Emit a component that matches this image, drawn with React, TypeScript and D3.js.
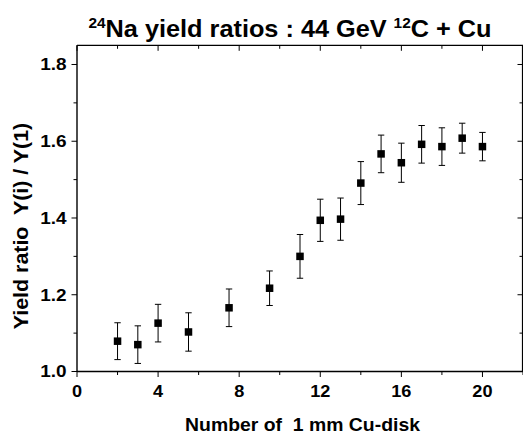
import React from "react";
import * as d3 from "d3";

const diskNumber = [2, 3, 4, 5.5, 7.5, 9.5, 11, 12, 13, 14, 15, 16, 17, 18, 19, 20];
const yieldRatio = [1.079, 1.07, 1.126, 1.103, 1.166, 1.217, 1.3, 1.394, 1.397, 1.491, 1.567, 1.544, 1.592, 1.586, 1.608, 1.586];
const ratioError = [0.048, 0.049, 0.049, 0.05, 0.049, 0.045, 0.057, 0.055, 0.055, 0.056, 0.049, 0.051, 0.049, 0.049, 0.039, 0.037];
const xTickLabels = [0, 4, 8, 12, 16, 20];
const yTickLabels = [1.0, 1.2, 1.4, 1.6, 1.8];

const W = 523;
const H = 434;
const L = 77;
const R = 523;
const T = 45.3;
const B = 371.5;
const FONT = "'Liberation Sans', Arial, sans-serif";

export default function App() {
  const x = d3.scaleLinear().domain([0, 22]).range([L, R]);
  const y = d3.scaleLinear().domain([1.0, 1.85]).range([B, T]);
  const xMinor = d3.range(0, 22.01, 2);
  const yMinor = d3.range(1.0, 1.851, 0.1);
  const isMajorX = (v: number) => Math.abs(v % 4) < 1e-6;
  const isMajorY = (v: number) => Math.abs(Math.round(v * 10) % 2) < 1e-6;
  const data = diskNumber.map((d, i) => ({ x: d, y: yieldRatio[i], e: ratioError[i] }));
  const ms = 7.5;
  const cap = 3.2;

  return (
    <svg width={W} height={H} style={{ position: "absolute", left: 0, top: 0, background: "#fff" }} fontFamily={FONT}>
      <rect x={0} y={0} width={W} height={H} fill="#fff" />
      {/* frame */}
      <line x1={L} x2={R} y1={B} y2={B} stroke="#000" strokeWidth={1.6} />
      <line x1={L} x2={L} y1={T} y2={B} stroke="#000" strokeWidth={1.4} />
      <line x1={L} x2={R} y1={T} y2={T} stroke="#000" strokeWidth={1.2} />
      <line x1={R - 0.5} x2={R - 0.5} y1={T} y2={B} stroke="#000" strokeWidth={1.2} />
      {/* x ticks */}
      {xMinor.map((v) => {
        const len = isMajorX(v) ? 5.5 : 3.5;
        return (
          <g key={"xt" + v}>
            <line x1={x(v)} x2={x(v)} y1={B} y2={B + len} stroke="#000" strokeWidth={1} />
            <line x1={x(v)} x2={x(v)} y1={T} y2={T + len} stroke="#000" strokeWidth={1} />
          </g>
        );
      })}
      {/* y ticks */}
      {yMinor.map((v) => {
        const len = isMajorY(v) ? 5.5 : 3.5;
        return (
          <g key={"yt" + v.toFixed(1)}>
            <line x1={L - len} x2={L} y1={y(v)} y2={y(v)} stroke="#000" strokeWidth={1} />
            <line x1={R - len} x2={R} y1={y(v)} y2={y(v)} stroke="#000" strokeWidth={1} />
          </g>
        );
      })}
      {/* tick labels */}
      {xTickLabels.map((v) => (
        <g key={"xl" + v} transform={`translate(${x(v)},397) scale(1.1,1)`}>
          <text x={0} y={0} textAnchor="middle" fontSize={16.5} fontWeight="bold">
            {v}
          </text>
        </g>
      ))}
      {yTickLabels.map((v) => (
        <g key={"yl" + v} transform={`translate(66.5,${y(v)}) scale(1.15,1)`}>
          <text x={0} y={0} dy="0.36em" textAnchor="end" fontSize={16.5} fontWeight="bold">
            {v.toFixed(1)}
          </text>
        </g>
      ))}
      {/* error bars */}
      {data.map((d, i) => (
        <g key={"e" + i} stroke="#000" strokeWidth={1}>
          <line x1={x(d.x)} x2={x(d.x)} y1={y(d.y - d.e)} y2={y(d.y + d.e)} />
          <line x1={x(d.x) - cap} x2={x(d.x) + cap} y1={y(d.y + d.e)} y2={y(d.y + d.e)} />
          <line x1={x(d.x) - cap} x2={x(d.x) + cap} y1={y(d.y - d.e)} y2={y(d.y - d.e)} />
        </g>
      ))}
      {/* markers */}
      {data.map((d, i) => (
        <rect key={"m" + i} x={x(d.x) - ms / 2} y={y(d.y) - ms / 2} width={ms} height={ms} fill="#000" />
      ))}
      {/* title */}
      <g transform="translate(290,36.7) scale(1.1,1)">
        <text x={0} y={0} textAnchor="middle" fontSize={23} fontWeight="bold">
          <tspan fontSize={14} dy={-9}>24</tspan>
          <tspan dy={9}>Na yield ratios : 44 GeV </tspan>
          <tspan fontSize={14} dy={-9}>12</tspan>
          <tspan dy={9}>C + Cu</tspan>
        </text>
      </g>
      {/* x title */}
      <g transform="translate(302.5,431) scale(1.09,1)">
        <text x={0} y={0} textAnchor="middle" fontSize={17.8} fontWeight="bold" style={{ whiteSpace: "pre" }}>
          {"Number of  1 mm Cu-disk"}
        </text>
      </g>
      {/* y title */}
      <g transform="translate(27.8,226) rotate(-90) scale(1.07,1)">
        <text x={0} y={0} textAnchor="middle" fontSize={20} fontWeight="bold" style={{ whiteSpace: "pre" }}>
          {"Yield ratio  Y(i) / Y(1)"}
        </text>
      </g>
    </svg>
  );
}
